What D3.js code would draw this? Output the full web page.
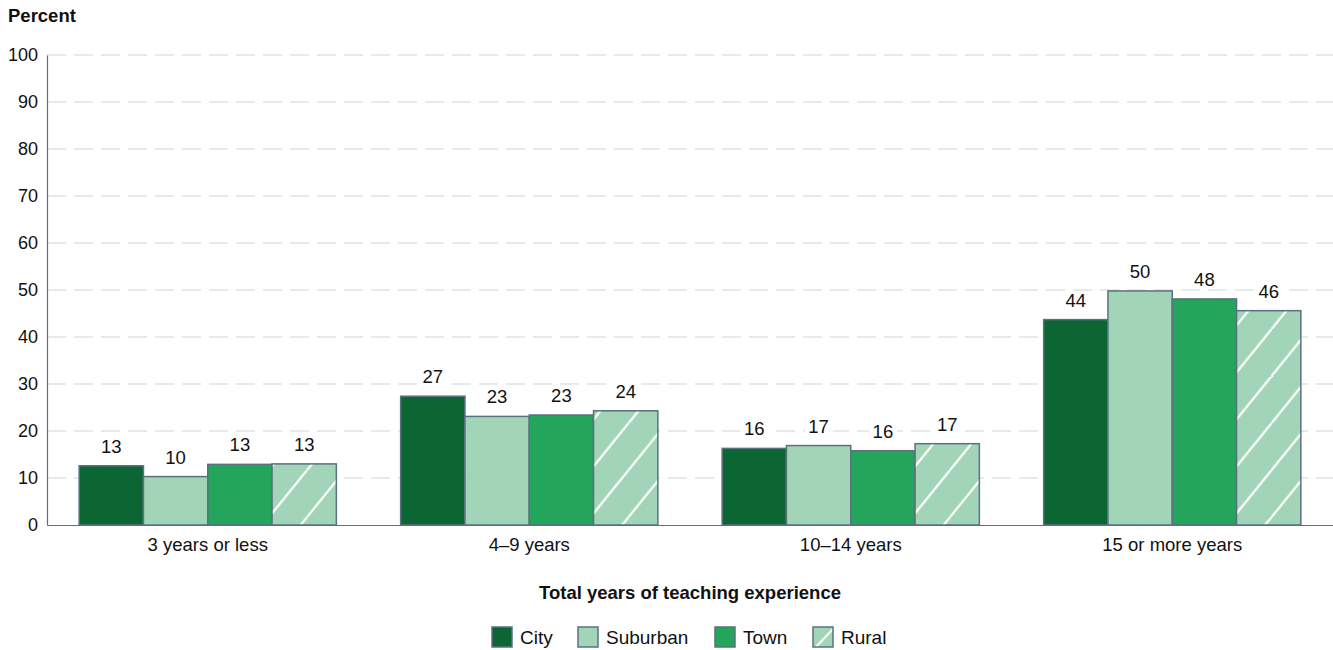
<!DOCTYPE html>
<html>
<head>
<meta charset="utf-8">
<script src="https://cdn.jsdelivr.net/npm/d3@7"></script>
<style>
  html, body { margin: 0; padding: 0; background: #fff; }
  svg { display: block; font-family: "Liberation Sans", Arial, Helvetica, sans-serif; }
</style>
</head>
<body>
<svg id="chart" width="1333" height="650"></svg>
<script>
// Teaching experience by school locale (percent of teachers)
const categories = ["3 years or less", "4\u20139 years", "10\u201314 years", "15 or more years"];
const seriesNames = ["City", "Suburban", "Town", "Rural"];
const city     = [12.6, 27.4, 16.3, 43.7];
const suburban = [10.3, 23.1, 16.9, 49.8];
const town     = [12.9, 23.4, 15.8, 48.1];
const rural    = [13.0, 24.3, 17.3, 45.6];
const yTicks = [0, 10, 20, 30, 40, 50, 60, 70, 80, 90, 100];

const seriesValues = [city, suburban, town, rural];
const fills = {
  City: "#0c6634",
  Suburban: "#a2d5b7",
  Town: "#24a55c",
  Rural: "url(#ruralStripes)"
};
const edge = "#5b7080";

const svg = d3.select("#chart");
const margin = { left: 47, right: 1333, top: 55, bottom: 525 };

// Diagonal white stripes for the rural series
const defs = svg.append("defs");
const pw = 38, ph = 47;
const pat = defs.append("pattern")
  .attr("id", "ruralStripes")
  .attr("patternUnits", "userSpaceOnUse")
  .attr("width", pw).attr("height", ph);
pat.append("rect").attr("width", pw).attr("height", ph).attr("fill", "#a2d5b7");
pat.append("path")
  .attr("d", `M0,${ph} L${pw},0 M${-pw},${ph} L0,0 M${pw},${ph} L${2 * pw},0`)
  .attr("stroke", "#fff").attr("stroke-width", 2.2);

const legendPat = defs.append("pattern")
  .attr("id", "ruralLegend")
  .attr("patternUnits", "objectBoundingBox")
  .attr("width", 1).attr("height", 1);
legendPat.append("rect").attr("width", 20).attr("height", 20).attr("fill", "#a2d5b7");
legendPat.append("path").attr("d", "M3,20 L20,2").attr("stroke", "#fff").attr("stroke-width", 2);

const x0 = d3.scaleBand()
  .domain(categories)
  .range([margin.left, margin.right])
  .paddingInner(0.2)
  .paddingOuter(0.1);

const x1 = d3.scaleBand()
  .domain(seriesNames)
  .range([0, x0.bandwidth()]);

const y = d3.scaleLinear().domain([0, 100]).range([margin.bottom, margin.top]);

// Dashed gridlines
svg.append("g")
  .selectAll("line")
  .data(yTicks.filter(t => t > 0))
  .join("line")
  .attr("x1", margin.left).attr("x2", margin.right)
  .attr("y1", d => y(d)).attr("y2", d => y(d))
  .attr("stroke", "#cbd5dc").attr("stroke-width", 1)
  .attr("stroke-dasharray", "19,8");

// Y axis
const yAxis = svg.append("g")
  .attr("transform", `translate(${margin.left},0)`)
  .call(d3.axisLeft(y).tickValues(yTicks).tickSize(0).tickPadding(9));
yAxis.select(".domain").attr("stroke", edge).attr("stroke-width", 1.2);
yAxis.selectAll("text")
  .attr("font-size", 18).attr("fill", "#111")
  .style("font-family", "'Liberation Sans', Arial, sans-serif");

svg.append("text")
  .attr("x", 8).attr("y", 22)
  .attr("font-size", 18.5).attr("font-weight", "bold").attr("fill", "#111")
  .text("Percent");

// Bars
const rows = categories.map((c, i) => ({
  category: c,
  values: seriesNames.map((s, j) => ({ series: s, value: seriesValues[j][i] }))
}));

const groups = svg.append("g")
  .selectAll("g")
  .data(rows)
  .join("g")
  .attr("transform", d => `translate(${x0(d.category)},0)`);

groups.selectAll("rect")
  .data(d => d.values)
  .join("rect")
  .attr("x", d => x1(d.series))
  .attr("y", d => y(d.value))
  .attr("width", x1.bandwidth())
  .attr("height", d => y(0) - y(d.value))
  .attr("fill", d => fills[d.series])
  .attr("stroke", edge).attr("stroke-width", 1.5);

// Value labels with white backing over the gridlines
const labels = groups.selectAll("g.lbl")
  .data(d => d.values)
  .join("g")
  .attr("class", "lbl")
  .attr("transform", d => `translate(${x1(d.series) + x1.bandwidth() / 2},${y(d.value) - 13})`);
labels.append("rect")
  .attr("x", -14).attr("y", -15).attr("width", 28).attr("height", 18)
  .attr("fill", "#fff");
labels.append("text")
  .attr("text-anchor", "middle")
  .attr("font-size", 18.5).attr("fill", "#111")
  .text(d => Math.round(d.value));

// X axis
const xAxis = svg.append("g")
  .attr("transform", `translate(0,${margin.bottom})`)
  .call(d3.axisBottom(x0).tickSize(0).tickPadding(0).tickSizeOuter(0));
xAxis.select(".domain").attr("stroke", edge).attr("stroke-width", 1.2);
xAxis.selectAll("text")
  .attr("font-size", 18.5).attr("fill", "#111").attr("dy", 0).attr("y", 26)
  .style("font-family", "'Liberation Sans', Arial, sans-serif");

svg.append("text")
  .attr("x", 690).attr("y", 599)
  .attr("text-anchor", "middle")
  .attr("font-size", 18.5).attr("font-weight", "bold").attr("fill", "#111")
  .text("Total years of teaching experience");

// Legend
const legendX = [492, 578, 715, 813];
const legend = svg.append("g")
  .selectAll("g")
  .data(seriesNames)
  .join("g")
  .attr("transform", (d, i) => `translate(${legendX[i]},627)`);
legend.append("rect")
  .attr("width", 20).attr("height", 20)
  .attr("fill", d => d === "Rural" ? "url(#ruralLegend)" : fills[d])
  .attr("stroke", edge).attr("stroke-width", 1.5);
legend.append("text")
  .attr("x", 28).attr("y", 16.5)
  .attr("font-size", 19).attr("fill", "#111")
  .text(d => d);
</script>
</body>
</html>
